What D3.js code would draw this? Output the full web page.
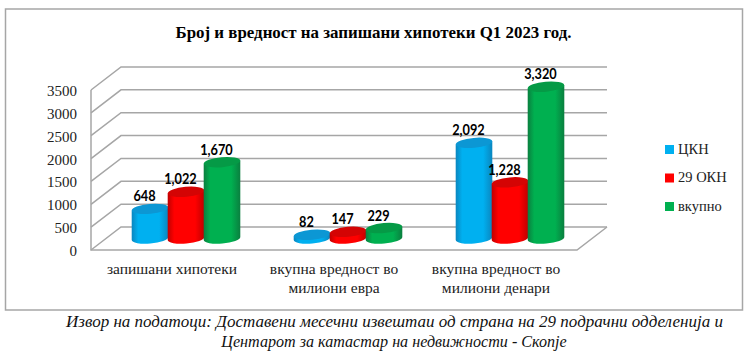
<!DOCTYPE html>
<html lang="en">
<head>
<meta charset="UTF-8"/>
<title>Број и вредност на запишани хипотеки</title>
<script src="https://d3js.org/d3.v7.min.js"></script>
<style>
  html, body { margin: 0; padding: 0; background: #fff; overflow: hidden; }
  svg { display: block; }
</style>
</head>
<body>
<script>
    // Values
    var categories = [["запишани хипотеки"], ["вкупна вредност во", "милиони евра"], ["вкупна вредност во", "милиони денари"]];
    var seriesNames = ["ЦКН", "29 ОКН", "вкупно"];
    var ckn = [648, 82, 2092];
    var okn = [1022, 147, 1228];
    var total = [1670, 229, 3320];
    var yTicks = [0, 500, 1000, 1500, 2000, 2500, 3000, 3500];
    var labelText = [["648", "82", "2,092"], ["1,022", "147", "1,228"], ["1,670", "229", "3,320"]];
    var colours = [
        { dark: "#0a86bf", mid: "#00b0f0", top: "#0c97d4" },
        { dark: "#c00000", mid: "#ff0000", top: "#d40404" },
        { dark: "#0a7f3f", mid: "#00b050", top: "#059a46" }
    ];

    var w = 750, h = 351;
    var serifFont = "'Liberation Serif', serif";
    var labelFont = "Lato, sans-serif";

    // Front plane of the 3D box and the depth offset to the back wall
    var x0 = 91, x1 = 577, depthX = 30, depthY = -23;
    var y = d3.scaleLinear().domain([0, 3500]).range([250, 90]);

    // Bars sit halfway into the depth of the box
    var xCat = d3.scaleBand().domain(d3.range(categories.length)).range([x0 + depthX / 2 - 1, x1 + depthX / 2 - 1]);
    var xSeries = d3.scaleBand().domain(d3.range(seriesNames.length)).range([-54, 54]);
    var barDepthY = -11.5;
    var ry = 5;
    var tiltDeg = -5;

    var svg = d3.select("body").append("svg").attr("width", w).attr("height", h);
    var defs = svg.append("defs");

    // Cylinder side shading
    colours.forEach(function(c, i) {
        var g = defs.append("linearGradient").attr("id", "side" + i);
        g.append("stop").attr("offset", "0%").attr("stop-color", c.dark);
        g.append("stop").attr("offset", "18%").attr("stop-color", c.mid);
        g.append("stop").attr("offset", "75%").attr("stop-color", c.mid);
        g.append("stop").attr("offset", "100%").attr("stop-color", c.dark);
    });

    // Outer frame
    svg.append("rect").attr("x", 5.5).attr("y", 9).attr("width", 737).attr("height", 301)
        .attr("fill", "#fff").attr("stroke", "#a6a6a6").attr("stroke-width", 1.5);

    // Title
    svg.append("text").attr("x", 373.5).attr("y", 38).attr("text-anchor", "middle")
        .attr("font-family", serifFont).attr("font-weight", "bold").attr("font-size", 16.9)
        .attr("fill", "#000").text("Број и вредност на запишани хипотеки Q1 2023 год.");

    // Gridlines on the wall and side, floor outline
    var grid = svg.append("g").attr("fill", "none").attr("stroke", "#a6a6a6").attr("stroke-width", 1.5);
    grid.selectAll("path").data(yTicks).enter().append("path")
        .attr("d", function(d) {
            return "M" + x0 + "," + y(d) + "L" + (x0 + depthX) + "," + (y(d) + depthY) + "L" + (x1 + depthX) + "," + (y(d) + depthY);
        });
    grid.append("path").attr("d", "M" + x0 + "," + y(3500) + "L" + x0 + "," + y(0) + "L" + x1 + "," + y(0) + "L" + (x1 + depthX) + "," + (y(0) + depthY));

    // Y axis labels
    svg.append("g").selectAll("text").data(yTicks).enter().append("text")
        .attr("x", 77).attr("y", function(d) { return y(d) + 6; }).attr("text-anchor", "end")
        .attr("font-family", serifFont).attr("font-size", 15).attr("fill", "#222")
        .text(function(d) { return d; });

    // Cylinders
    [ckn, okn, total].forEach(function(values, s) {
        var bars = svg.append("g").selectAll("g").data(values).enter().append("g");
        var cx = function(i) { return xCat(i) + xCat.bandwidth() / 2 + xSeries(s) + xSeries.bandwidth() / 2; };
        var rx = xSeries.bandwidth() / 2 + 0.3;
        var tilt = rx * Math.sin(-tiltDeg * Math.PI / 180);

        bars.append("path")
            .attr("fill", "url(#side" + s + ")")
            .attr("d", function(d, i) {
                var top = y(d) + barDepthY, bot = y(0) + barDepthY, c = cx(i);
                return "M" + (c - rx) + "," + (top + tilt) + "L" + (c - rx) + "," + (bot + tilt) +
                    "A" + rx + "," + ry + " " + tiltDeg + " 0 0 " + (c + rx) + "," + (bot - tilt) +
                    "L" + (c + rx) + "," + (top - tilt) + "Z";
            });
        bars.append("ellipse")
            .attr("rx", rx).attr("ry", ry)
            .attr("transform", function(d, i) {
                return "translate(" + cx(i) + "," + (y(d) + barDepthY) + ") rotate(" + tiltDeg + ")";
            })
            .attr("fill", colours[s].top);

        // Data labels, sit a little left of the bar centre. Lato squeezed to the narrower original face
        bars.append("text")
            .attr("transform", function(d, i) {
                return "translate(" + (cx(i) - 5.5) + "," + (y(d) + barDepthY - 7.5) + ") scale(0.85,1)";
            })
            .attr("text-anchor", "middle")
            .attr("font-family", labelFont).attr("font-weight", "bold").attr("font-size", 15)
            .attr("fill", "#000")
            .text(function(d, i) { return labelText[s][i]; });
    });

    // Category labels
    var catLabels = svg.append("g").selectAll("text").data(categories).enter().append("text")
        .attr("text-anchor", "middle")
        .attr("font-family", serifFont).attr("font-size", 15.5).attr("fill", "#222");
    catLabels.selectAll("tspan").data(function(d, i) { return d.map(function(t) { return { t: t, i: i }; }); })
        .enter().append("tspan")
        .attr("x", function(d) { return xCat(d.i) + xCat.bandwidth() / 2 - 14; })
        .attr("y", function(d, j) { return 274 + j * 18.5; })
        .text(function(d) { return d.t; });

    // Legend
    var legend = svg.append("g").selectAll("g").data(seriesNames).enter().append("g")
        .attr("transform", function(d, i) { return "translate(665," + (145 + i * 28.5) + ")"; });
    legend.append("rect").attr("width", 9).attr("height", 9)
        .attr("fill", function(d, i) { return colours[i].mid; });
    legend.append("text").attr("x", 13).attr("y", 8.5).attr("font-family", serifFont)
        .attr("font-size", 14.5).attr("fill", "#222").text(function(d) { return d; });

    // Source note
    svg.append("text").attr("x", 394.5).attr("y", 327).attr("text-anchor", "middle")
        .attr("font-family", serifFont).attr("font-style", "italic").attr("font-size", 17).attr("fill", "#111")
        .text("Извор на податоци: Доставени месечни извештаи од страна на 29 подрачни одделенија и");
    svg.append("text").attr("x", 394).attr("y", 347).attr("text-anchor", "middle")
        .attr("font-family", serifFont).attr("font-style", "italic").attr("font-size", 16.1).attr("fill", "#111")
        .text("Центарот за катастар на недвижности - Скопје");
</script>
</body>
</html>
